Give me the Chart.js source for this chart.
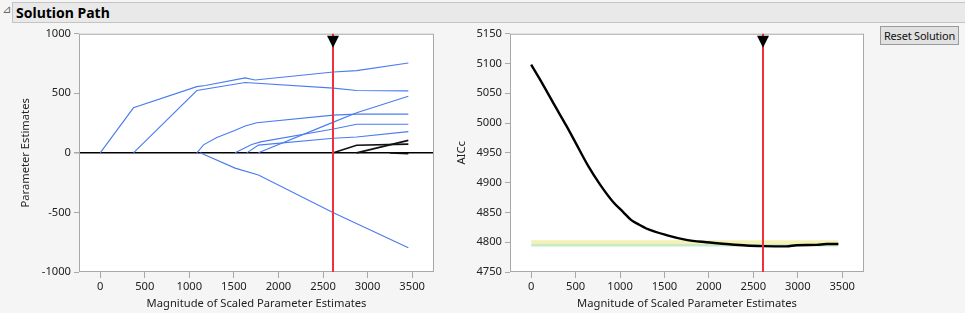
<!DOCTYPE html>
<html lang="en">
<head>
  <meta charset="UTF-8" />
  <title>Solution Path</title>
  <script src="https://cdn.jsdelivr.net/npm/chart.js"></script>
  <style>
    body {
      margin: 0;
      width: 965px;
      height: 313px;
      background: #f5f5f5;
      font-family: 'Noto Sans', sans-serif;
      position: relative;
      overflow: hidden;
    }

    .outline-bar {
      position: absolute;
      left: 12px;
      top: 2px;
      width: 960px;
      height: 19px;
      background: #e9e9e9;
      border: 1px solid #c4c4c4;
    }

    .outline-bar span {
      position: absolute;
      left: 3px;
      top: 0px;
      font-size: 14px;
      font-weight: bold;
      color: #000;
    }

    .toggle {
      position: absolute;
      left: 2px;
      top: 3px;
      font-family: 'DejaVu Sans', sans-serif;
      font-size: 11px;
      color: #666;
    }

    .chart-box {
      position: absolute;
      top: 24px;
      height: 289px;
    }

    .reset-btn {
      position: absolute;
      left: 880px;
      top: 26px;
      width: 77px;
      height: 17px;
      background: #e1e1e1;
      border: 1px solid #9a9a9a;
      font-size: 11px;
      line-height: 17px;
      text-align: center;
      white-space: nowrap;
      letter-spacing: -0.2px;
      color: #111;
    }
  </style>
</head>
<body>
  <div class="toggle">&#8895;</div>
  <div class="outline-bar"><span>Solution Path</span></div>

  <div class="chart-box" style="left:0; width:445px;">
    <canvas id="pathChart" width="445" height="289"></canvas>
  </div>
  <div class="chart-box" style="left:440px; width:440px;">
    <canvas id="aiccChart" width="440" height="289"></canvas>
  </div>
  <div class="reset-btn">Reset Solution</div>

  <script>
    // chosen solution (red line), magnitude of scaled parameter estimates
    const selectedMagnitude = 2612;

    // parameter estimate paths: [magnitude, estimate]
    const pathA = [[0, 0], [373, 378], [1084, 556], [1180, 565], [1626, 629], [1738, 612], [2616, 679], [2877, 690], [3457, 754]];
    const pathB = [[373, 0], [1084, 523], [1626, 590], [2616, 543], [2877, 523], [3457, 520]];
    const pathC = [[1084, 0], [1159, 67], [1308, 128], [1495, 184], [1626, 225], [1756, 253], [2616, 317], [2877, 325], [3457, 325]];
    const pathD = [[1121, 0], [1513, -128], [1775, -186], [2616, -503], [3457, -796]];
    const pathE = [[1775, 0], [2616, 258], [2877, 336], [3457, 476]];
    const pathF = [[1513, 0], [1700, 70], [1800, 92], [2616, 200], [2877, 240], [3457, 240]];
    const pathG = [[1645, 0], [1775, 65], [2616, 123], [2877, 133], [3457, 178]];
    // late entering terms (drawn black)
    const pathK1 = [[2616, 0], [2877, 64], [3457, 73]];
    const pathK2 = [[2877, 0], [3457, 105]];
    const pathK3 = [[3250, 0], [3457, -8]];

    const bluePaths = [pathA, pathB, pathC, pathD, pathE, pathF, pathG];
    const blackPaths = [pathK1, pathK2, pathK3];

    // AICc along the path
    const aiccX = [0, 131, 263, 394, 507, 638, 770, 920, 1033, 1127, 1220, 1296, 1521, 1746, 1971, 2197, 2422, 2610, 2873, 2986, 3211, 3323, 3457];
    const aiccY = [5098, 5065, 5030, 4996, 4965, 4929, 4898, 4868, 4851, 4837, 4829, 4823, 4812, 4804, 4800, 4797, 4794.5, 4793.5, 4793, 4795, 4795.5, 4797, 4797];

    // AICc zones: green within 4 of the minimum, yellow within 10
    const zoneX = [0, 3457];
    const zoneLevels = [4793, 4797, 4803.5];

    const xTickValues = [0, 500, 1000, 1500, 2000, 2500, 3000, 3500];
    const xMin = -238, xMax = 3745;

    const toPoints = arr => arr.map(p => ({ x: p[0], y: p[1] }));
    const tickFont = { family: "'Noto Sans', sans-serif", size: 11.2 };
    const axisGray = '#a8a8a8';
    const plainNumber = v => String(v);

    const framePlugin = {
      id: 'frame',
      beforeDraw(chart) {
        const { ctx, chartArea: a } = chart;
        ctx.save();
        ctx.fillStyle = '#fff';
        ctx.fillRect(a.left, a.top, a.width, a.height);
        ctx.restore();
      },
      afterDatasetsDraw(chart) {
        const { ctx, chartArea: a, scales } = chart;
        const px = Math.round(scales.x.getPixelForValue(selectedMagnitude));
        ctx.save();
        ctx.strokeStyle = axisGray;
        ctx.lineWidth = 1;
        ctx.strokeRect(a.left + 0.5, a.top + 0.5, a.width - 1, a.height - 1);
        ctx.strokeStyle = '#f0303e';
        ctx.lineWidth = 2;
        ctx.beginPath();
        ctx.moveTo(px, a.top);
        ctx.lineTo(px, a.bottom);
        ctx.stroke();
        ctx.fillStyle = '#000';
        ctx.beginPath();
        ctx.moveTo(px - 6, a.top + 2);
        ctx.lineTo(px + 6, a.top + 2);
        ctx.lineTo(px, a.top + 14);
        ctx.closePath();
        ctx.fill();
        ctx.restore();
      }
    };

    function xScale() {
      return {
        type: 'linear',
        min: xMin,
        max: xMax,
        afterFit: s => { s.height = 41; },
        afterBuildTicks: s => { s.ticks = xTickValues.map(v => ({ value: v })); },
        grid: { drawOnChartArea: false, drawTicks: true, tickLength: 6, color: axisGray },
        border: { display: false },
        ticks: { color: '#222', font: tickFont, padding: 2, maxRotation: 0, callback: plainNumber },
        title: {
          display: true,
          text: 'Magnitude of Scaled Parameter Estimates',
          color: '#222',
          font: tickFont,
          padding: { top: 0, bottom: 2 }
        }
      };
    }

    const pathDatasets = [
      ...bluePaths.map(p => ({
        data: toPoints(p),
        borderColor: '#4a7cf0',
        borderWidth: 1.1
      })),
      ...blackPaths.map(p => ({
        data: toPoints(p),
        borderColor: '#111',
        borderWidth: 1.6
      }))
    ].map(d => Object.assign(d, { showLine: true, pointRadius: 0, fill: false, tension: 0 }));

    new Chart(document.getElementById('pathChart'), {
      type: 'scatter',
      data: { datasets: pathDatasets },
      options: {
        responsive: false,
        animation: false,
        devicePixelRatio: 1,
        layout: { padding: { left: 0, top: 9, right: 11, bottom: 0 } },
        plugins: { legend: { display: false }, tooltip: { enabled: false } },
        scales: {
          x: xScale(),
          y: {
            min: -1000,
            max: 1000,
            afterFit: s => { s.width = 79; },
            ticks: { stepSize: 500, color: '#222', font: tickFont, padding: 3, callback: plainNumber },
            grid: {
              drawTicks: true,
              tickLength: 5,
              tickColor: axisGray,
              color: c => c.tick && c.tick.value === 0 ? '#000' : 'rgba(0,0,0,0)',
              lineWidth: c => c.tick && c.tick.value === 0 ? 1.5 : 1
            },
            border: { display: false },
            title: {
              display: true,
              text: 'Parameter Estimates',
              color: '#222',
              font: tickFont,
              padding: { top: 19, bottom: 0 }
            }
          }
        }
      },
      plugins: [framePlugin]
    });

    const zoneColors = ['rgba(0,0,0,0)', '#c9eac6', '#f3f1b6'];
    const zoneDatasets = zoneLevels.map((lvl, i) => ({
      data: zoneX.map(x => ({ x: x, y: lvl })),
      order: 1,
      showLine: true,
      pointRadius: 0,
      borderWidth: 0,
      borderColor: 'rgba(0,0,0,0)',
      backgroundColor: zoneColors[i],
      fill: i === 0 ? false : '-1'
    }));

    new Chart(document.getElementById('aiccChart'), {
      type: 'scatter',
      data: {
        datasets: [
          ...zoneDatasets,
          {
            data: aiccX.map((x, i) => ({ x: x, y: aiccY[i] })),
            order: 0,
            showLine: true,
            pointRadius: 0,
            borderColor: '#000',
            borderWidth: 2.4,
            cubicInterpolationMode: 'monotone',
            fill: false
          }
        ]
      },
      options: {
        responsive: false,
        animation: false,
        devicePixelRatio: 1,
        layout: { padding: { left: 0, top: 8, right: 16, bottom: 0 } },
        plugins: { legend: { display: false }, tooltip: { enabled: false }, filler: { propagate: false } },
        scales: {
          x: xScale(),
          y: {
            min: 4750,
            max: 5150,
            afterFit: s => { s.width = 70; },
            ticks: { stepSize: 50, color: '#222', font: tickFont, padding: 3, callback: plainNumber },
            grid: { drawOnChartArea: false, drawTicks: true, tickLength: 5, color: axisGray },
            border: { display: false },
            title: {
              display: true,
              text: 'AICc',
              color: '#222',
              font: tickFont,
              padding: { top: 15, bottom: 0 }
            }
          }
        }
      },
      plugins: [framePlugin]
    });
  </script>
</body>
</html>
